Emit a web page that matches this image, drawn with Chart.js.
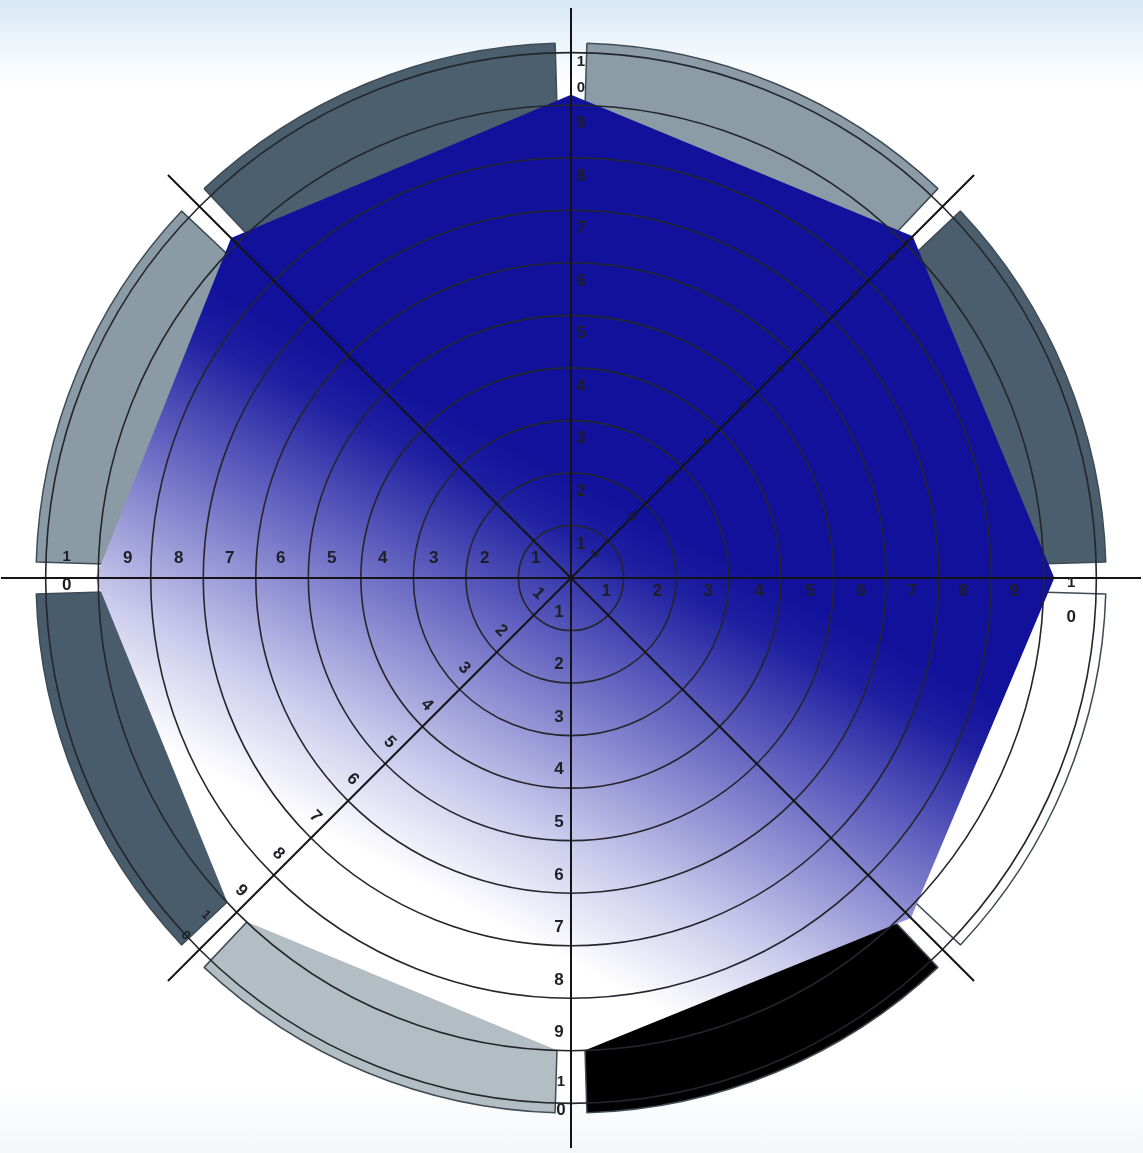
<!DOCTYPE html>
<html>
<head>
<meta charset="utf-8">
<script src="https://cdn.jsdelivr.net/npm/chart.js@4/dist/chart.umd.min.js"></script>
<style>
  html, body { margin: 0; padding: 0; }
  body { width: 1143px; height: 1153px; overflow: hidden;
         background: linear-gradient(to bottom, #d7e7f5 0px, #ecf4fb 40px, #ffffff 85px, #ffffff 1080px, #f4f6f8 1153px); }
  #wrap { position: relative; width: 1143px; height: 1153px; }
  #wrap canvas { position: absolute; left: 0; top: 0; }
</style>
</head>
<body>
<div id="wrap">
  <canvas id="bands" width="1143" height="1153"></canvas>
  <canvas id="wheel" width="1143" height="1153"></canvas>
</div>
<script>
// ---- data ----
const categories = ['Axis 1', 'Axis 2', 'Axis 3', 'Axis 4', 'Axis 5', 'Axis 6', 'Axis 7', 'Axis 8'];
const scores = [9.2, 9.2, 9.2, 9.15, 9.1, 9.1, 9.05, 9.15];
const tickLabels = ['1', '2', '3', '4', '5', '6', '7', '8', '9'];
const tenLabel = ['1', '0'];
const bandValues = [1, 1, 1, 1, 1, 1, 1, 1];
const bandColors = ['#8c9ca7', '#4a5e6d', '#ffffff', '#000000', '#b3bdc4', '#485c6b', '#8b9ba6', '#4b5f6e'];

// ---- outer ring (doughnut) ----
new Chart(document.getElementById('bands'), {
  type: 'doughnut',
  data: {
    labels: categories,
    datasets: [{
      data: bandValues,
      backgroundColor: bandColors,
      borderColor: '#3f4b55',
      borderWidth: 1.5,
      spacing: 70
    }]
  },
  options: {
    responsive: false,
    animation: false,
    radius: 500,
    cutout: '78%',
    rotation: 0,
    layout: { padding: { left: 33, right: 34, top: 40, bottom: 37 } },
    plugins: { legend: { display: false }, tooltip: { enabled: false } }
  }
});

// ---- tick label plugin ----
const axisLabels = {
  id: 'axisLabels',
  afterDraw(chart) {
    const s = chart.scales.r;
    const ctx = chart.ctx;
    const put = (i, v, dx, dy, txt, size, rot) => {
      const p = s.getPointPositionForValue(i, v);
      ctx.save();
      ctx.translate(p.x + dx, p.y + dy);
      if (rot) ctx.rotate(rot);
      ctx.font = 'bold ' + size + 'px "Liberation Sans", Arial, sans-serif';
      ctx.fillStyle = '#1e1e26';
      ctx.textAlign = 'center';
      ctx.textBaseline = 'middle';
      ctx.fillText(txt, 0, 0);
      ctx.restore();
    };
    tickLabels.forEach((t, k) => {
      const v = k + 1 - 0.35;
      const vh = 0.971 * (k + 1) - 0.3;
      put(0, v, 10, 0, t, 17);
      put(2, vh, 0, 13, t, 17);
      put(4, v, -12, 0, t, 17);
      put(6, vh, 0, -20, t, 17);
      put(1, v, 0, 0, t, 11, -Math.PI / 4);
      put(5, v, -8.5, -8.5, t, 17, Math.PI / 4);
    });
    // split "10" labels
    put(0, 9.82, 10, 0, tenLabel[0], 15);
    put(0, 9.33, 10, 0, tenLabel[1], 15);
    put(2, 9.52, 0, 5, tenLabel[0], 15);
    put(2, 9.52, 0, 39, tenLabel[1], 17);
    put(4, 9.6, -10, 0, tenLabel[0], 15);
    put(4, 10.13, -10, 0, tenLabel[1], 17);
    put(6, 9.6, 0, -21, tenLabel[0], 15);
    put(6, 9.6, 0, 7, tenLabel[1], 17);
    put(5, 9.45, -14, -14, tenLabel[0], 13, Math.PI / 4);
    put(5, 10.0, -14, -14, tenLabel[1], 13, Math.PI / 4);
  }
};

// ---- wheel (radar) ----
new Chart(document.getElementById('wheel'), {
  type: 'radar',
  data: {
    labels: categories,
    datasets: [{
      data: scores,
      fill: true,
      borderWidth: 0,
      borderColor: 'rgba(0,0,0,0)',
      pointRadius: 0,
      backgroundColor: (c) => {
        const chart = c.chart;
        const s = chart.scales.r;
        if (!s || !chart.chartArea) return '#11119b';
        const cx = s.xCenter, cy = s.yCenter;
        const g = chart.ctx.createLinearGradient(cx - 12, cy - 110, cx - 214, cy + 272);
        g.addColorStop(0, '#11119b');
        g.addColorStop(0.12, '#1e1fa0');
        g.addColorStop(0.45, '#7777c9');
        g.addColorStop(0.75, '#c9c9ec');
        g.addColorStop(1, '#ffffff');
        return g;
      }
    }]
  },
  options: {
    responsive: false,
    animation: false,
    layout: { padding: { left: 0, right: 0, top: 8, bottom: 4 } },
    elements: { line: { tension: 0 } },
    scales: {
      r: {
        z: 1,
        min: 0,
        max: 10.85,
        ticks: { display: false, stepSize: 1 },
        pointLabels: { display: false },
        grid: {
          z: 1,
          circular: true,
          lineWidth: 1.6,
          color: (c) => (c.tick && c.tick.value > 10.01) ? 'rgba(0,0,0,0)' : '#25262c'
        },
        angleLines: { color: '#141418', lineWidth: 2 }
      }
    },
    plugins: { legend: { display: false }, tooltip: { enabled: false } }
  },
  plugins: [axisLabels]
});
</script>
</body>
</html>
